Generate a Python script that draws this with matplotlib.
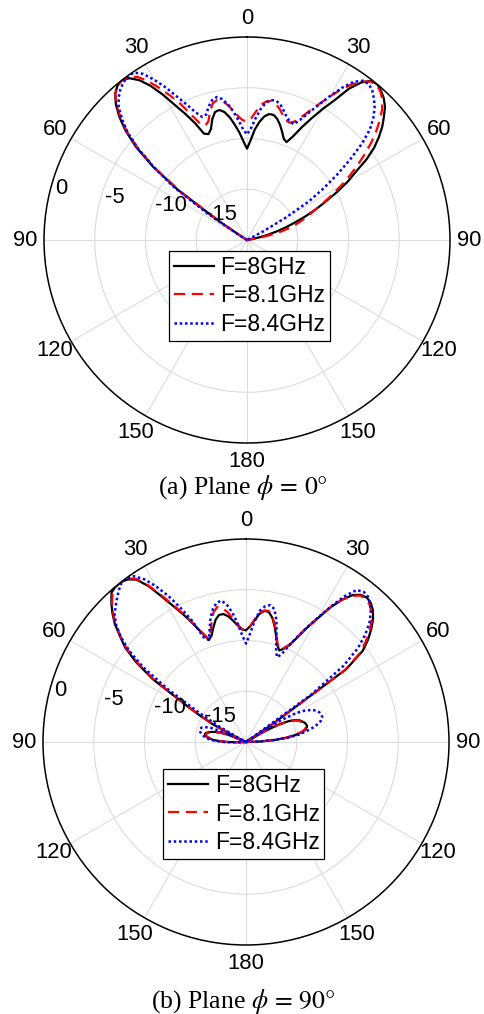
import numpy as np
import matplotlib
matplotlib.use("Agg")
import matplotlib.pyplot as plt
from matplotlib.transforms import ScaledTranslation

plt.rcParams['font.family'] = ['Liberation Sans', 'DejaVu Sans']
plt.rcParams['mathtext.fontset'] = 'stix'

# sampling angles (deg, clockwise from broadside), 2 deg step
theta_deg = np.arange(-100, 101, 2)

# normalised gain in dB, plane phi = 0
gain_a_80 = [
    -20, -20, -20, -20, -20, -20, -20, -20, -20, -20,
    -20, -20, -20, -20, -20, -20, -20, -20, -20, -20,
    -20, -19.5, -16.5, -11.5, -8.2, -5.7, -3.9, -2.5, -1.4, -0.6,
    -0.15, 0, -0.3, -1.0, -2.1, -3.5, -5.0, -6.2, -7.4, -8.7,
    -8.9, -8.5, -7.6, -7.0, -6.9, -7.2, -7.8, -8.6, -9.4, -10.3,
    -11.0, -10.2, -9.1, -8.3, -7.7, -7.4, -7.4, -7.7, -8.2, -8.8,
    -9.4, -9.6, -8.8, -7.6, -6.4, -5.1, -3.8, -2.0, -0.8, -0.1,
    0, -0.25, -0.6, -1.1, -1.85, -2.6, -3.5, -4.5, -5.8, -7.4,
    -8.6, -10.0, -11.4, -12.6, -13.8, -15.0, -16.0, -17.0, -17.9, -18.8,
    -19.6, -20, -20, -20, -20, -20, -20, -20, -20, -20,
    -20]
gain_a_81 = [
    -20, -20, -20, -20, -20, -20, -20, -20, -20, -20,
    -20, -20, -20, -20, -20, -20, -20, -20, -20, -20,
    -20, -19.5, -16.8, -12.0, -8.5, -6.0, -4.1, -2.7, -1.5, -0.6,
    -0.1, 0, -0.2, -0.6, -1.5, -2.7, -3.9, -5.1, -6.5, -7.6,
    -8.0, -7.7, -6.8, -6.1, -5.9, -6.1, -6.6, -7.2, -7.8, -8.2,
    -8.3, -8.0, -7.3, -6.6, -6.2, -6.1, -6.3, -6.7, -7.2, -7.6,
    -7.7, -7.4, -6.7, -5.8, -4.8, -3.7, -2.5, -1.5, -0.7, -0.2,
    -0.1, -0.35, -0.8, -1.5, -2.4, -3.4, -4.5, -5.7, -6.9, -8.1,
    -9.3, -10.5, -11.6, -12.6, -13.4, -14.1, -14.8, -15.6, -16.5, -17.6,
    -18.8, -20, -20, -20, -20, -20, -20, -20, -20, -20,
    -20]
gain_a_84 = [
    -20, -20, -20, -20, -20, -20, -20, -20, -20, -20,
    -20, -20, -20, -20, -20, -20, -20, -20, -20, -20,
    -20, -19.0, -15.0, -11.0, -8.4, -6.0, -4.2, -2.9, -1.8, -1.1,
    -0.6, -0.25, -0.05, -0.1, -0.7, -1.8, -3.0, -4.3, -5.4, -6.4,
    -7.1, -7.0, -6.3, -5.8, -5.6, -5.9, -6.5, -7.3, -8.2, -9.1,
    -9.6, -9.0, -8.0, -7.0, -6.3, -6.0, -6.0, -6.3, -6.8, -7.3,
    -7.6, -7.7, -7.0, -6.0, -4.9, -3.6, -2.3, -1.2, -0.6, -0.5,
    -0.8, -1.3, -1.9, -2.7, -3.7, -5.2, -7.1, -9.0, -10.9, -12.8,
    -15.6, -18.2, -20, -20, -20, -20, -20, -20, -20, -20,
    -20, -20, -20, -20, -20, -20, -20, -20, -20, -20,
    -20]

# normalised gain in dB, plane phi = 90
gain_b_80 = [
    -20, -20, -20, -20, -19.2, -18.1, -17.3, -16.7, -16.3, -16.0,
    -15.9, -15.9, -16.1, -16.4, -16.8, -17.3, -18.0, -20, -19.0, -16.3,
    -14.6, -12.5, -8.9, -6.6, -4.9, -3.8, -2.6, -1.7, -0.9, -0.2,
    0, 0, -0.2, -0.7, -1.9, -3.5, -4.9, -6.1, -7.3, -8.4,
    -9.3, -9.0, -8.3, -7.6, -7.2, -7.2, -7.5, -8.0, -8.5, -8.9,
    -9.0, -8.6, -8.0, -7.3, -6.95, -7.0, -7.5, -8.3, -9.2, -10.0,
    -10.4, -10.1, -9.6, -8.6, -7.3, -6.0, -4.4, -3.1, -2.1, -1.6,
    -1.45, -1.6, -2.0, -2.6, -3.4, -4.3, -5.4, -7.8, -17.0, -20,
    -18.0, -16.3, -15.3, -14.7, -14.3, -14.1, -13.9, -13.8, -13.8, -14.0,
    -14.4, -15.1, -16.0, -17.2, -18.6, -20, -20, -20, -20, -20,
    -20]
gain_b_81 = [
    -20, -20, -20, -20, -19.3, -18.2, -17.4, -16.8, -16.4, -16.1,
    -16.0, -16.0, -16.2, -16.5, -16.9, -17.4, -18.1, -20, -19.2, -16.7,
    -14.8, -12.7, -9.2, -6.9, -5.1, -3.9, -2.7, -1.8, -1.0, -0.35,
    -0.05, 0, -0.1, -0.6, -1.8, -3.3, -4.7, -6.0, -7.2, -8.3,
    -9.2, -8.7, -7.7, -6.8, -6.4, -6.6, -7.1, -7.8, -8.4, -8.9,
    -9.0, -8.6, -7.9, -7.2, -6.9, -6.9, -7.4, -8.2, -9.1, -9.9,
    -10.3, -10.0, -9.5, -8.5, -7.2, -5.9, -4.4, -3.1, -2.2, -1.7,
    -1.6, -1.8, -2.2, -2.8, -3.6, -4.6, -5.7, -8.0, -17.0, -20,
    -18.0, -16.4, -15.4, -14.8, -14.4, -14.2, -14.0, -13.9, -13.9, -14.1,
    -14.5, -15.2, -16.1, -17.3, -18.7, -20, -20, -20, -20, -20,
    -20]
gain_b_84 = [
    -20, -20, -20, -20, -19.0, -17.8, -17.0, -16.4, -16.0, -15.8,
    -15.6, -15.4, -15.3, -15.3, -15.4, -15.7, -16.3, -17.8, -20, -19.5,
    -17.0, -14.5, -10.8, -7.5, -5.4, -3.9, -2.8, -2.0, -1.5, -1.0,
    -0.5, -0.1, 0, -0.3, -1.1, -2.3, -3.7, -5.3, -6.9, -8.9,
    -9.3, -8.4, -7.3, -6.5, -6.0, -5.85, -6.3, -7.2, -8.3, -9.5,
    -10.3, -9.4, -8.1, -7.0, -6.5, -6.3, -6.6, -7.6, -9.1, -10.4,
    -11.1, -10.7, -9.6, -8.5, -7.2, -5.9, -4.3, -2.7, -1.5, -1.2,
    -1.3, -1.7, -2.3, -3.1, -4.2, -5.6, -7.8, -12.0, -20, -16.0,
    -14.3, -13.4, -12.8, -12.4, -12.2, -12.1, -12.1, -12.3, -12.7, -13.3,
    -14.0, -14.7, -15.8, -17.2, -18.8, -20, -20, -20, -20, -20,
    -20]

freq_labels = ['F=8GHz', 'F=8.1GHz', 'F=8.4GHz']
r_ticks = [0, -5, -10, -15]
theta_ticks = np.arange(0, 360, 30)

styles = [dict(color='black', linestyle='-', linewidth=1.6),
          dict(color='#ff0000', linestyle=(0, (5, 3)), linewidth=1.6),
          dict(color='#0000ff', linestyle=(0, (1, 1.1)), linewidth=1.8)]


def draw_panel(ax, gains, legend_anchor):
    th = np.deg2rad(theta_deg)
    for g, lab, st in zip(gains, freq_labels, styles):
        ax.plot(th, np.clip(g, -20, 0), label=lab, **st)

    ax.set_theta_zero_location('N')
    ax.set_theta_direction(-1)
    ax.set_rlim(-20, 0)
    ax.set_rticks(r_ticks[1:])
    ax.set_yticklabels([])
    ax.set_thetagrids(theta_ticks, labels=[''] * len(theta_ticks))
    ax.grid(color='#dcdcdc', linewidth=0.8)
    ax.spines['polar'].set_linewidth(1.1)
    ax.spines['polar'].set_color('black')

    # angle labels 0..180 on both sides
    for t in theta_ticks:
        lab = t if t <= 180 else 360 - t
        ax.text(np.deg2rad(t), 1.85, str(lab), ha='center', va='center',
                fontsize=15.8, clip_on=False)

    # radial labels along the 80 deg line on the left
    off = ScaledTranslation(8 / 100, 6 / 100, ax.figure.dpi_scale_trans)
    for r in r_ticks:
        ax.text(np.deg2rad(-80), r, str(r), ha='left', va='bottom',
                fontsize=15.8, transform=ax.transData + off, zorder=5)

    leg = ax.legend(loc='upper left', bbox_to_anchor=legend_anchor,
                    bbox_transform=ax.transAxes, fancybox=False,
                    edgecolor='black', framealpha=1, fontsize=16.5,
                    borderpad=0.2, borderaxespad=0, handlelength=1.75,
                    handletextpad=0.3, labelspacing=0.25)
    leg.get_frame().set_linewidth(0.9)


fig = plt.figure(figsize=(4.84, 10.14), dpi=100)

ax_a = fig.add_axes([44 / 484, 571 / 1014, 406 / 484, 406 / 1014], projection='polar')
draw_panel(ax_a, [gain_a_80, gain_a_81, gain_a_84], (0.308, 0.473))

ax_b = fig.add_axes([43 / 484, 69 / 1014, 406 / 484, 406 / 1014], projection='polar')
draw_panel(ax_b, [gain_b_80, gain_b_81, gain_b_84], (0.296, 0.433))

fig.text(243 / 484, 1 - 487 / 1014, r'(a) Plane $\phi\,=\,0°$',
         ha='center', va='center', fontsize=18.5, family='Liberation Serif')
fig.text(243 / 484, 1 - 1001 / 1014, r'(b) Plane $\phi\,=\,90°$',
         ha='center', va='center', fontsize=18.5, family='Liberation Serif')

fig.savefig('out.png', dpi=100)
